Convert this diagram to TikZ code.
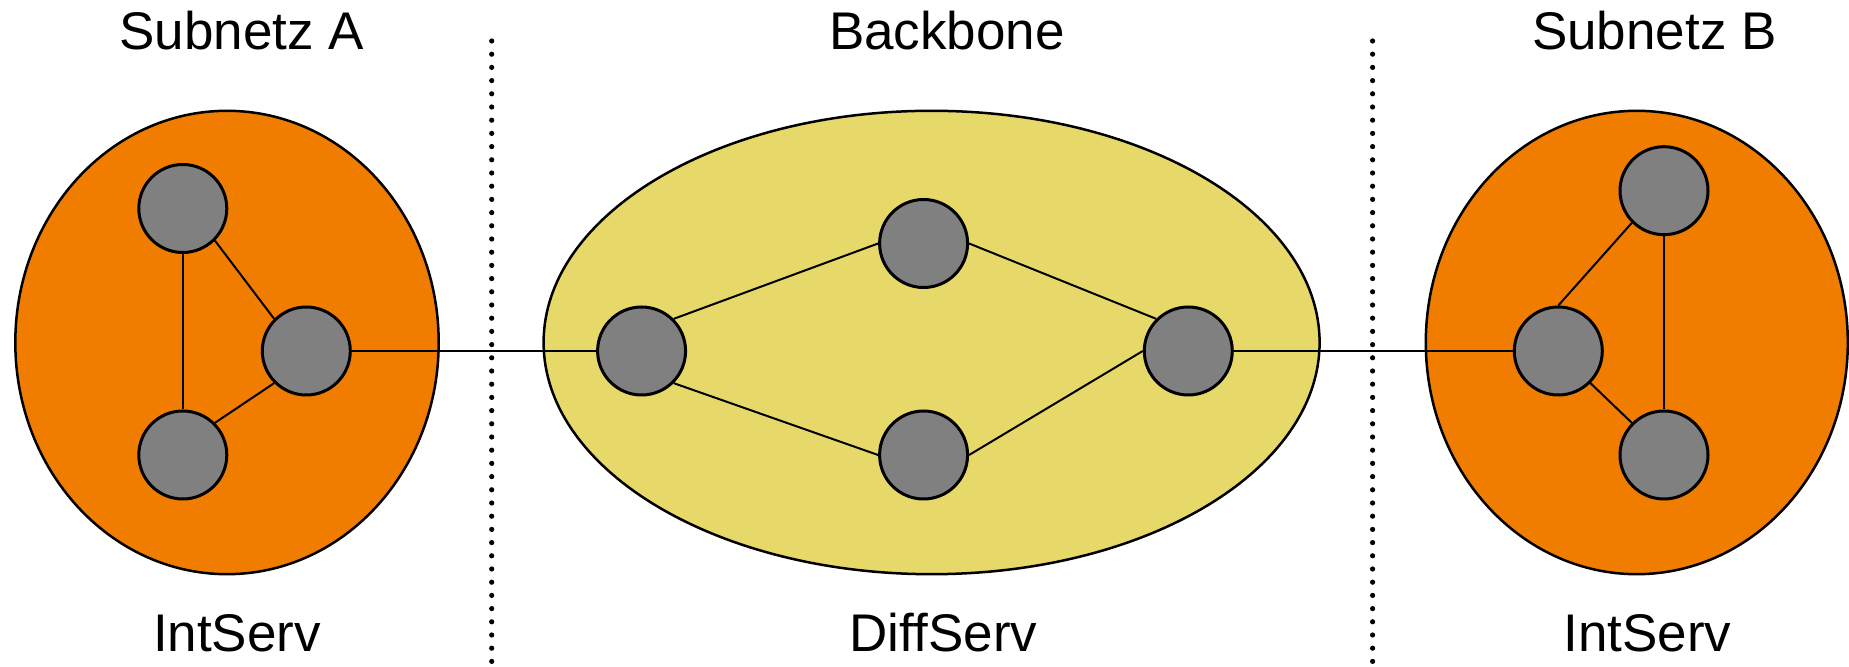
\documentclass[tikz,border=0pt]{standalone}
\usepackage{fontspec}
\setmainfont{Liberation Sans}
\usetikzlibrary{shapes.geometric}
\definecolor{intorange}{RGB}{240,124,0}
\definecolor{diffyellow}{RGB}{230,217,106}
\definecolor{routergray}{RGB}{128,128,128}
\begin{document}
\begin{tikzpicture}[x=0.5pt,y=-0.5pt,
  region/.style={ellipse, draw, line width=1.25pt, inner sep=0pt},
  router/.style={circle, draw, fill=routergray, line width=1.5pt, minimum size=44pt, inner sep=0pt},
  link/.style={line width=1pt},
  border/.style={line width=2.6pt, line cap=round, dash pattern=on 0pt off 6.6pt},
  title/.style={font=\fontsize{26.5}{30}\selectfont, anchor=base, inner sep=0pt}
]
\useasboundingbox (0,0) rectangle (1849,667);

% domains
\node[region, fill=intorange, minimum width=211.7pt, minimum height=231.7pt] (subA) at (227,342.5) {};
\node[region, fill=diffyellow, minimum width=388pt, minimum height=231.7pt] (core) at (931.6,342.5) {};
\node[region, fill=intorange, minimum width=211pt, minimum height=231.7pt] (subB) at (1636.8,342.5) {};

% domain borders
\coordinate (d1t) at (491.7,41);
\coordinate (d1b) at (491.7,667);
\coordinate (d2t) at (1372.6,41);
\coordinate (d2b) at (1372.6,667);
\draw[border] (d1t) -- (d1b);
\draw[border] (d2t) -- (d2b);

% routers
\node[router] (a1) at (182.8,208.5) {};
\node[router] (a2) at (306.3,351) {};
\node[router] (a3) at (182.8,455) {};

\node[router] (b1) at (641.6,351) {};
\node[router] (b2) at (923.6,243.5) {};
\node[router] (b3) at (923.6,455) {};
\node[router] (b4) at (1188.3,351) {};

\node[router] (c1) at (1664,190.7) {};
\node[router] (c2) at (1558.3,351) {};
\node[router] (c3) at (1664,455) {};

% links
\draw[link] (a1.south east) -- (a2.north west);
\draw[link] (a1.south) -- (a3.north);
\draw[link] (a2.south west) -- (a3.north east);
\draw[link] (a2.east) -- (b1.west);
\draw[link] (b1.north east) -- (b2.west);
\draw[link] (b1.south east) -- (b3.west);
\draw[link] (b2.east) -- (b4.north west);
\draw[link] (b3.east) -- (b4.west);
\draw[link] (b4.east) -- (c2.west);
\draw[link] (c1.south west) -- (c2.north);
\draw[link] (c1.south) -- (c3.north);
\draw[link] (c2.south east) -- (c3.north west);

% labels
\node[title] (tA) at (241.7,49.4) {Subnetz A};
\node[title] (tCore) at (947,49.4) {Backbone};
\node[title] (tB) at (1654.4,49.4) {Subnetz B};
\node[title] (sA) at (237,651.7) {IntServ};
\node[title] (sCore) at (943.4,651.7) {DiffServ};
\node[title] (sB) at (1647.3,651.7) {IntServ};
\end{tikzpicture}
\end{document}
